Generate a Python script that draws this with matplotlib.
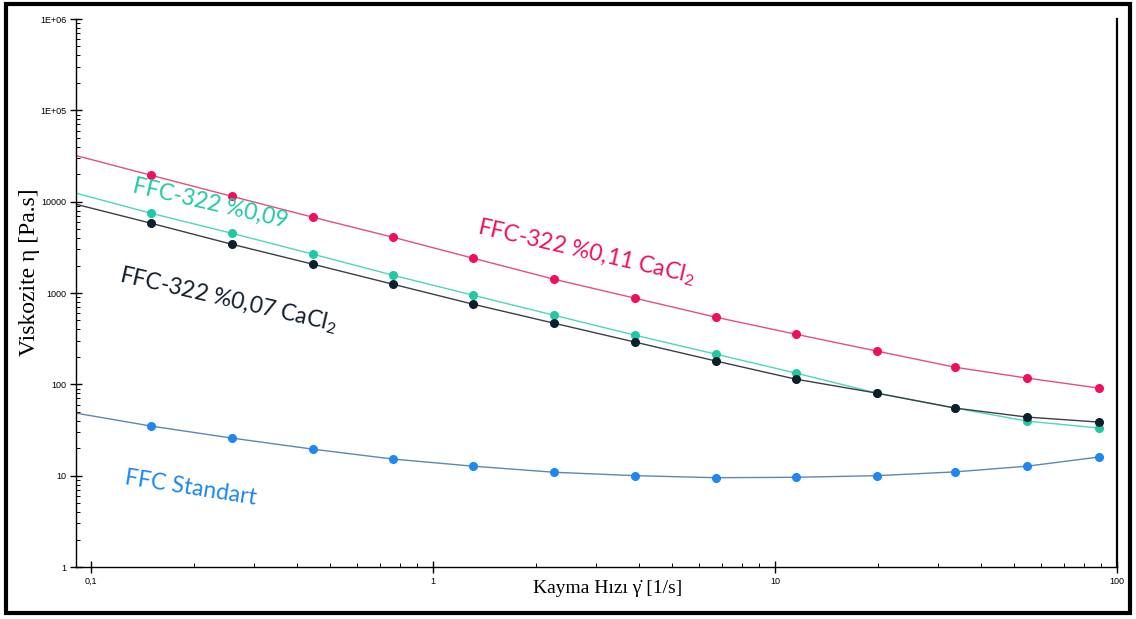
import matplotlib
matplotlib.use("Agg")
import matplotlib.pyplot as plt
from matplotlib.patches import Rectangle
from matplotlib.ticker import FixedLocator, LogLocator, NullFormatter

plt.rcParams['mathtext.default'] = 'regular'

# shear rate points [1/s]
shear = [0.150, 0.258, 0.446, 0.764, 1.31, 2.26, 3.90, 6.72, 11.5, 19.9, 33.6, 54.6, 88.6]

# viscosity [Pa.s]
visc_011 = [19450, 11460, 6750, 4080, 2405, 1415, 877, 543, 354, 231, 154, 117, 91]
visc_009 = [7460, 4510, 2660, 1565, 946, 571, 345, 214, 133, 80, 55, 39.6, 33.2]
visc_007 = [5800, 3420, 2065, 1248, 754, 467, 290, 180, 114, 80, 55, 43.8, 38.6]
visc_std = [34.9, 25.8, 19.5, 15.2, 12.7, 10.9, 10.0, 9.5, 9.6, 10.0, 11.0, 12.7, 16.0]

# fitted line value at the left edge of the plot
x_start = 0.0904
start_011, start_009, start_007, start_std = 32000, 12400, 9370, 48.4

fig = plt.figure(figsize=(11.36, 6.19), dpi=100)
ax = fig.add_axes([0.0669, 0.084, 0.9163, 0.8853])

series = [
    (visc_011, start_011, '#ea4d78', '#f0105a'),
    (visc_009, start_009, '#4fd6bd', '#1ecaa4'),
    (visc_007, start_007, '#3a3f44', '#0f1e2b'),
    (visc_std, start_std, '#5b86b5', '#1f87ef'),
]
for vals, start, lc, mc in series:
    ax.plot([x_start] + shear, [start] + vals, color=lc, lw=1.0, zorder=2)
    ax.plot(shear, vals, 'o', color=mc, ms=5.5, mec=mc, zorder=3)

ax.set_xscale('log')
ax.set_yscale('log')
ax.set_xlim(x_start, 100)
ax.set_ylim(1, 1e6)

ax.spines['top'].set_visible(False)
ax.spines['right'].set_linewidth(1.6)
for s in ['left', 'bottom']:
    ax.spines[s].set_linewidth(1.0)

ytick_vals = [1, 10, 100, 1000, 10000, 1e5, 1e6]
ytick_labels = ['1', '10', '100', '1000', '10000', '1E+05', '1E+06']
xtick_vals = [0.1, 1, 10, 100]
xtick_labels = ['0,1', '1', '10', '100']
ax.yaxis.set_major_locator(FixedLocator(ytick_vals))
ax.set_yticklabels(ytick_labels)
ax.xaxis.set_major_locator(FixedLocator(xtick_vals))
ax.set_xticklabels(xtick_labels)
ax.yaxis.set_minor_locator(LogLocator(base=10, subs=range(2, 10), numticks=20))
ax.xaxis.set_minor_locator(LogLocator(base=10, subs=range(2, 10), numticks=20))
ax.yaxis.set_minor_formatter(NullFormatter())
ax.xaxis.set_minor_formatter(NullFormatter())
ax.tick_params(axis='both', which='major', direction='inout', length=8, width=1,
               labelsize=6.5, pad=3)
ax.tick_params(axis='both', which='minor', direction='in', length=3, width=0.7)
ax.tick_params(axis='y', which='both', right=False)
for lab in ax.get_xticklabels() + ax.get_yticklabels():
    lab.set_family('Liberation Sans')

ax.set_ylabel('Viskozite η [Pa.s]', family='Liberation Serif', fontsize=17)
ax.yaxis.set_label_coords(-0.0346, 0.538)
ax.set_xlabel('Kayma Hızı γ̇ [1/s]', family='Liberation Serif', fontsize=14)
ax.xaxis.set_label_coords(0.511, -0.024)

lab_font = dict(family='Lato', fontsize=16.5, ha='center', va='center', rotation_mode='anchor')
ax.text(2.8, 2790, 'FFC-322 %0,11 CaCl$_2$', color='#f0105a', rotation=-13, **lab_font)
ax.text(0.224, 9600, 'FFC-322 %0,09', color='#1ecaa4', rotation=-13, **lab_font)
ax.text(0.252, 834, 'FFC-322 %0,07 CaCl$_2$', color='#0f1e2b', rotation=-13, **lab_font)
ax.text(0.196, 7.3, 'FFC Standart', color='#1f87ef', rotation=-9, **lab_font)

fig.patches.append(Rectangle((0.005, 0.01), 0.99, 0.983, transform=fig.transFigure,
                             fill=False, lw=3, ec='black'))

fig.savefig('out.png', dpi=100)
